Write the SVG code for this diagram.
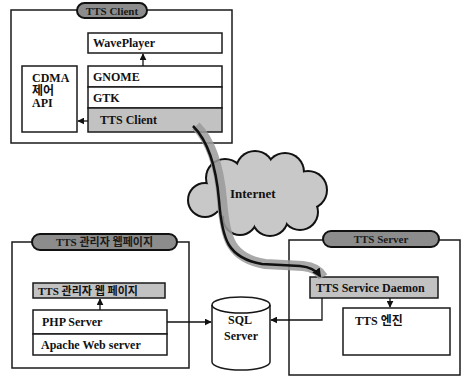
<svg xmlns="http://www.w3.org/2000/svg" width="467" height="382" viewBox="0 0 467 382">
<defs>
<style>
.box{fill:#fff;stroke:#1a1a1a;stroke-width:1.5}
.gbox{fill:#c2c2c2;stroke:#1a1a1a;stroke-width:1.5}
.pill{fill:#8c8c8c;stroke:#111;stroke-width:2}
.t{font-family:"Liberation Serif","Noto Sans CJK KR",serif;font-size:12px;fill:#111;font-weight:bold}
.pt{font-family:"Liberation Serif","Noto Sans CJK KR",serif;font-size:11px;fill:#1a1a1a;font-weight:bold;text-anchor:middle}
.ln{fill:none;stroke:#111;stroke-width:1.3}
</style>
<marker id="ah" viewBox="0 0 10 10" refX="9" refY="5" markerWidth="7" markerHeight="7" orient="auto-start-reverse" markerUnits="userSpaceOnUse">
<path d="M0,0 L10,5 L0,10 Z" fill="#111"/>
</marker>
<marker id="ah2" viewBox="0 0 10 10" refX="8" refY="5" markerWidth="9" markerHeight="9" orient="auto" markerUnits="userSpaceOnUse">
<path d="M0,0 L10,5 L0,10 Z" fill="#111"/>
</marker>
</defs>
<rect width="467" height="382" fill="#fff"/>

<g id="tts-client">
<rect class="box" x="11" y="10" width="221" height="133"/>
<rect class="pill" x="77" y="3" width="70" height="15" rx="7.5"/>
<text class="pt" x="112" y="14.5">TTS Client</text>
</g>
<g id="waveplayer">
<rect class="box" x="88" y="33" width="134" height="20"/>
<text class="t" x="93" y="47">WavePlayer</text>
</g>
<g id="gnome">
<rect class="box" x="88" y="66" width="134" height="21"/>
<text class="t" x="93" y="81">GNOME</text>
</g>
<g id="gtk">
<rect class="box" x="88" y="87" width="134" height="21"/>
<text class="t" x="93" y="102">GTK</text>
</g>
<g id="tts-client-lib">
<rect class="gbox" x="88" y="108" width="134" height="24"/>
<text class="t" x="100" y="124">TTS Client</text>
</g>
<g id="cdma">
<rect class="box" x="22" y="66" width="55" height="66"/>
<text class="t" x="32" y="82">CDMA</text>
<text class="t" x="32" y="94.5">제어</text>
<text class="t" x="32" y="107">API</text>
</g>

<g id="internet">
<g fill="#111">
<circle cx="205" cy="200" r="18"/>
<circle cx="225" cy="178" r="20"/>
<circle cx="255" cy="170" r="20"/>
<circle cx="285" cy="172" r="20"/>
<circle cx="308" cy="190" r="20"/>
<circle cx="300" cy="212" r="19"/>
<circle cx="270" cy="218" r="19"/>
<circle cx="240" cy="218" r="18"/>
</g>
<g fill="#c8c8c8">
<circle cx="205" cy="200" r="16"/>
<circle cx="225" cy="178" r="18"/>
<circle cx="255" cy="170" r="18"/>
<circle cx="285" cy="172" r="18"/>
<circle cx="308" cy="190" r="18"/>
<circle cx="300" cy="212" r="17"/>
<circle cx="270" cy="218" r="17"/>
<circle cx="240" cy="218" r="16"/>
<circle cx="262" cy="195" r="26"/>
<circle cx="232" cy="200" r="18"/>
<circle cx="288" cy="195" r="18"/>
</g>
<text class="t" x="230" y="198" style="font-size:13px">Internet</text>
</g>

<g id="tts-admin">
<rect class="box" x="12" y="242" width="177" height="126"/>
<rect class="pill" x="32" y="234" width="145" height="16" rx="8"/>
<text class="pt" x="104.5" y="246">TTS 관리자 웹페이지</text>
</g>
<g id="admin-web-page">
<rect class="gbox" x="33" y="283" width="132" height="15"/>
<text class="t" x="38" y="295" style="font-size:11px">TTS 관리자 웹 페이지</text>
</g>
<g id="php-server">
<rect class="box" x="33" y="310" width="134" height="24"/>
<text class="t" x="42" y="326">PHP Server</text>
</g>
<g id="apache">
<rect class="box" x="33" y="334" width="134" height="21"/>
<text class="t" x="41" y="349">Apache Web server</text>
</g>

<g id="sql-server">
<path class="box" d="M212,305 A29,8 0 0 1 270,305 L270,362 A29,8 0 0 1 212,362 Z"/>
<path class="ln" d="M212,305 A29,8 0 0 0 270,305" style="stroke-width:1.5"/>
<text class="t" x="240" y="324" text-anchor="middle">SQL</text>
<text class="t" x="241" y="340" text-anchor="middle">Server</text>
</g>

<g id="tts-server">
<rect class="box" x="289" y="240" width="171" height="135"/>
<rect class="pill" x="323" y="231" width="116" height="16" rx="8"/>
<text class="pt" x="381" y="243">TTS Server</text>
</g>
<g id="tts-daemon">
<rect class="gbox" x="310" y="277" width="128" height="21"/>
<text class="t" x="316" y="292">TTS Service Daemon</text>
</g>
<g id="tts-engine">
<rect class="box" x="343" y="308" width="107" height="47"/>
<text class="t" x="355" y="325">TTS 엔진</text>
</g>

<g id="connectors">
<line class="ln" x1="143" y1="66" x2="143" y2="54" marker-end="url(#ah)"/>
<line class="ln" x1="88" y1="121" x2="78" y2="121" marker-end="url(#ah)"/>
<line class="ln" x1="100" y1="310" x2="100" y2="299" marker-end="url(#ah)"/>
<line class="ln" x1="167" y1="322" x2="211" y2="322" marker-end="url(#ah)"/>
<polyline class="ln" points="322,298 322,320 271,320" marker-end="url(#ah)"/>
<line class="ln" x1="390" y1="298" x2="390" y2="307" marker-end="url(#ah)"/>
<path d="M193,126 C207,140 216,165 219,200 C222,240 228,258 262,264 L300,266 C310,267 316,270 320,277" fill="none" stroke="#9a9a9a" stroke-width="10" transform="translate(3,0)" opacity="0.85"/>
<path d="M193,126 C207,140 216,165 219,200 C222,240 228,258 262,264 L300,266 C310,267 316,270 320,276" fill="none" stroke="#111" stroke-width="2.5" marker-end="url(#ah2)"/>
</g>
</svg>
